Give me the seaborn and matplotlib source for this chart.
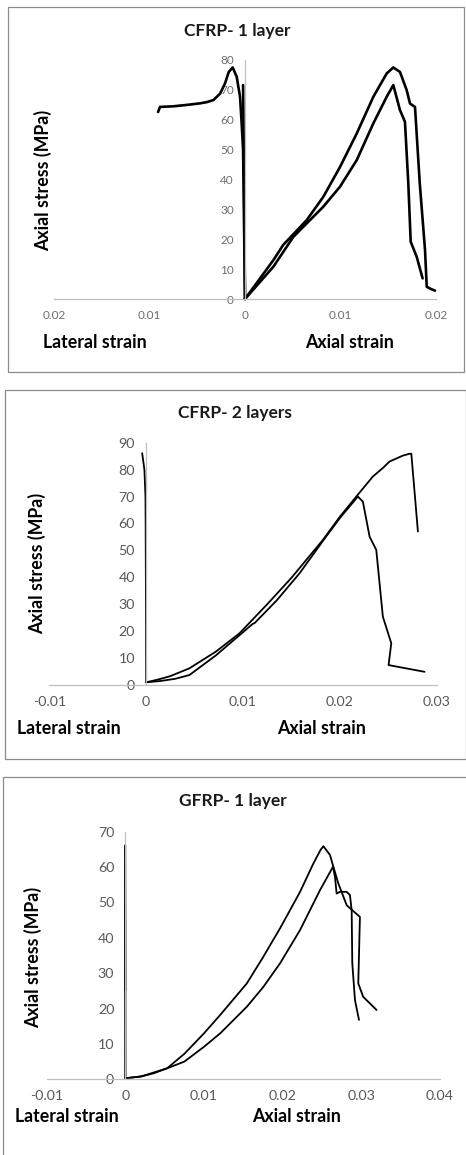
import matplotlib
matplotlib.use("Agg")
import matplotlib.pyplot as plt
from matplotlib.patches import Rectangle
import seaborn as sns
import pandas as pd

# ---- CFRP 1 layer ----
c1_lat_a_x = [0, -0.0001, -0.0002]
c1_lat_a_y = [0, 40, 71.6]
c1_lat_b_x = [0, -0.0001, -0.0002, -0.00035, -0.00052, -0.00087, -0.00129, -0.0017,
              -0.0021, -0.0026, -0.0033, -0.0040, -0.0047, -0.0060, -0.0075, -0.0089,
              -0.0091]
c1_lat_b_y = [0, 25, 50, 58.8, 67.7, 74.4, 77.5, 76.0, 72.1, 68.8, 66.6, 65.9, 65.5,
              65.0, 64.5, 64.3, 62.6]
c1_ax_a_x = [0, 0.00297, 0.0040, 0.00646, 0.0082, 0.00995, 0.0117, 0.01344, 0.01484,
             0.01553, 0.01623, 0.01693, 0.01728, 0.0178, 0.0183, 0.01885, 0.01903,
             0.0195, 0.0199]
c1_ax_a_y = [0, 13.0, 18.1, 26.4, 34.2, 44.2, 55.4, 67.7, 75.5, 77.5, 76.0, 69.9, 65.4,
             64.3, 38.7, 16.4, 4.1, 3.3, 2.8]
c1_ax_b_x = [0, 0.00297, 0.00506, 0.0082, 0.00995, 0.0117, 0.01344, 0.01484, 0.01553,
             0.01623, 0.01675, 0.0171, 0.01735, 0.01798, 0.0186]
c1_ax_b_y = [0, 10.8, 20.8, 30.9, 37.6, 46.5, 58.8, 67.7, 71.6, 63.2, 59.3, 38.7, 19.2,
             14.1, 6.9]
c1_xticks = [-0.02, -0.01, 0, 0.01, 0.02]
c1_xlabels = ["0.02", "0.01", "0", "0.01", "0.02"]
c1_yticks = [0, 10, 20, 30, 40, 50, 60, 70, 80]

# ---- CFRP 2 layers ----
c2_lat_x = [0, -0.00002, -0.00005, -0.00007, -0.00018, -0.00041]
c2_lat_y = [1.2, 30, 60, 70, 80, 86.1]
c2_ax_a_x = [0, 0.0012, 0.0025, 0.00447, 0.0072, 0.00964, 0.0125, 0.015, 0.01825,
             0.0200, 0.0217, 0.0234, 0.0245, 0.02513, 0.0265, 0.0272, 0.02738, 0.02806]
c2_ax_a_y = [1, 2.0, 3.3, 6.2, 12.4, 19.2, 30.0, 39.8, 53.9, 62.5, 70.0, 77.4, 80.8,
             83.0, 85.2, 85.9, 85.9, 57.0]
c2_ax_b_x = [0, 0.0015, 0.003, 0.00447, 0.0072, 0.00964, 0.0110, 0.0112, 0.0135,
             0.01584, 0.01825, 0.0200, 0.02186, 0.02238, 0.02307, 0.02376, 0.02444,
             0.02531, 0.02503, 0.02875]
c2_ax_b_y = [1, 1.5, 2.3, 3.7, 11.0, 18.5, 22.7, 23.0, 31.5, 41.5, 53.5, 62.0, 70.0,
             68.1, 55.1, 50.2, 25.4, 15.5, 7.4, 4.9]
c2_xticks = [-0.01, 0, 0.01, 0.02, 0.03]
c2_xlabels = ["-0.01", "0", "0.01", "0.02", "0.03"]
c2_yticks = [0, 10, 20, 30, 40, 50, 60, 70, 80, 90]

# ---- GFRP 1 layer ----
g1_lat_a_x = [0, -0.00002]
g1_lat_a_y = [0.3, 66.2]
g1_lat_b_x = [0, -0.00003, -0.00001]
g1_lat_b_y = [0.3, 66, 25.2]
g1_ax_a_x = [0, 0.002, 0.0036, 0.0053, 0.0075, 0.01, 0.01206, 0.01544, 0.0175, 0.01967,
             0.02221, 0.0239, 0.0248, 0.02517, 0.02602, 0.02644, 0.02707, 0.02814,
             0.02982, 0.02961, 0.03024, 0.03194]
g1_ax_a_y = [0.3, 0.8, 1.7, 3.1, 7.2, 13.0, 18.2, 27.1, 34.5, 42.7, 53.0, 61.0, 64.8,
             65.9, 63.4, 60.1, 55.4, 49.2, 45.9, 27.1, 23.3, 19.6]
g1_ax_b_x = [0, 0.002, 0.0053, 0.0075, 0.01, 0.01206, 0.01544, 0.0175, 0.01967, 0.02221,
             0.02475, 0.0264, 0.02665, 0.02686, 0.02728, 0.02813, 0.02855, 0.02877,
             0.02885, 0.02919, 0.0297]
g1_ax_b_y = [0.3, 0.8, 3.1, 5.0, 9.2, 13.0, 20.5, 26.0, 32.8, 42.2, 53.5, 60.1, 57.2,
             52.5, 53.0, 53.0, 52.1, 47.8, 32.8, 22.4, 16.8]
g1_xticks = [-0.01, 0, 0.01, 0.02, 0.03, 0.04]
g1_xlabels = ["-0.01", "0", "0.01", "0.02", "0.03", "0.04"]
g1_yticks = [0, 10, 20, 30, 40, 50, 60, 70]

sns.set_style("white")
plt.rcParams["font.family"] = ["Lato", "DejaVu Sans"]

W, H = 466, 1155
fig = plt.figure(figsize=(W / 100, H / 100), dpi=100)
AXIS_GREY = "#bfbfbf"


def px_axes(left, right, top, bottom):
    return fig.add_axes([left / W, 1 - bottom / H, (right - left) / W, (bottom - top) / H])


def style_panel(ax, xticks, xlabels, yticks, tick_size, tick_color):
    ax.set_xlim(xticks[0], xticks[-1])
    ax.set_ylim(yticks[0], yticks[-1])
    for s in ["top", "right"]:
        ax.spines[s].set_visible(False)
    ax.spines["left"].set_position(("data", 0))
    for s in ["left", "bottom"]:
        ax.spines[s].set_color(AXIS_GREY)
        ax.spines[s].set_linewidth(0.9)
    ax.set_xticks(xticks)
    ax.set_xticklabels(xlabels)
    ax.set_yticks(yticks)
    ax.set_yticklabels([str(v) for v in yticks])
    ax.tick_params(axis="x", direction="inout", length=6, width=0.9, color=AXIS_GREY,
                   labelsize=tick_size, labelcolor=tick_color, pad=5)
    ax.tick_params(axis="y", direction="inout", length=6, width=0.9, color=AXIS_GREY,
                   labelsize=tick_size, labelcolor=tick_color, pad=5)
    ax.set_xlabel("")
    ax.set_ylabel("")
    ax.patch.set_alpha(0)


def draw(ax, xs, ys, lw):
    df = pd.DataFrame({"strain": xs, "stress": ys})
    sns.lineplot(data=df, x="strain", y="stress", sort=False, estimator=None,
                 color="black", linewidth=lw, ax=ax, clip_on=False)


def panel_text(title, tcx, tcy, ylx, yly, latx, axx, ly, fs):
    fig.text(tcx / W, 1 - tcy / H, title, ha="center", va="center",
             fontsize=12.5, fontweight="bold", color="#1a1a1a")
    fig.text(ylx / W, 1 - yly / H, "Axial stress (MPa)", ha="center", va="center",
             rotation=90, fontsize=fs, fontweight="bold", color="black")
    fig.text(latx / W, 1 - ly / H, "Lateral strain", ha="left", va="center",
             fontsize=fs, fontweight="bold", color="black")
    fig.text(axx / W, 1 - ly / H, "Axial strain", ha="left", va="center",
             fontsize=fs, fontweight="bold", color="black")


# frames around each chart
for (x0, y0, x1, y1) in [(8, 7, 464, 371.5), (5, 390, 466, 759), (3, 777, 470, 1160)]:
    fig.add_artist(Rectangle((x0 / W, 1 - y1 / H), (x1 - x0) / W, (y1 - y0) / H,
                             transform=fig.transFigure, fill=False,
                             edgecolor="#8c8c8c", linewidth=0.9))

# panel 1
ax1 = px_axes(54, 436, 60, 299)
for xs, ys in [(c1_lat_a_x, c1_lat_a_y), (c1_lat_b_x, c1_lat_b_y),
               (c1_ax_a_x, c1_ax_a_y), (c1_ax_b_x, c1_ax_b_y)]:
    draw(ax1, xs, ys, 1.9)
style_panel(ax1, c1_xticks, c1_xlabels, c1_yticks, 8.5, "#6e6e6e")
panel_text("CFRP- 1 layer", 237, 31, 43, 180, 43, 305, 343, 12.8)

# panel 2
ax2 = px_axes(49.3, 436.7, 442.7, 685)
for xs, ys in [(c2_lat_x, c2_lat_y), (c2_ax_a_x, c2_ax_a_y), (c2_ax_b_x, c2_ax_b_y)]:
    draw(ax2, xs, ys, 1.3)
style_panel(ax2, c2_xticks, c2_xlabels, c2_yticks, 10.3, "#595959")
panel_text("CFRP- 2 layers", 235, 413, 37, 563, 17, 277, 729, 12.8)

# panel 3
ax3 = px_axes(46.7, 440, 831.7, 1079.3)
for xs, ys in [(g1_lat_a_x, g1_lat_a_y), (g1_lat_b_x, g1_lat_b_y),
               (g1_ax_a_x, g1_ax_a_y), (g1_ax_b_x, g1_ax_b_y)]:
    draw(ax3, xs, ys, 1.3)
style_panel(ax3, g1_xticks, g1_xlabels, g1_yticks, 10.3, "#595959")
panel_text("GFRP- 1 layer", 233, 801, 33, 957, 15, 252, 1116, 12.8)

fig.savefig("out.png", dpi=100)
